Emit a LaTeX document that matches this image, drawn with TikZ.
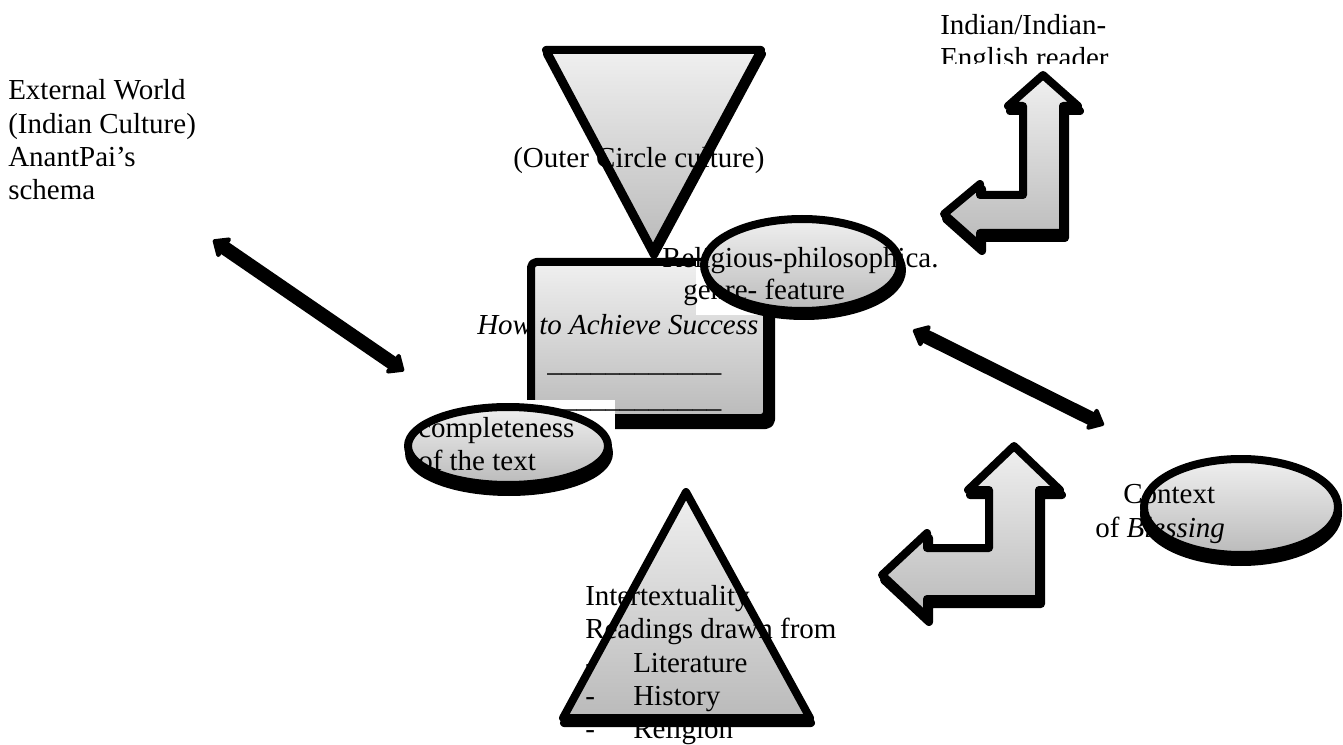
\documentclass[tikz,border=0pt]{standalone}
\usepackage{fontspec}
\setmainfont{Liberation Serif}
\usetikzlibrary{arrows.meta}
\newcommand{\diagfont}{\fontsize{21.75pt}{25pt}\selectfont}
\begin{document}
\begin{tikzpicture}[x=0.75pt,y=-0.75pt,
  txt/.style={font=\diagfont, inner sep=0pt, anchor=base west},
  itx/.style={txt, font=\diagfont\itshape},
  shp/.style={line width=6pt, line join=round},
  shadowshape/.style={shp, fill=black, draw=black},
  grad/.style={top color=black!6, bottom color=black!27},
  outline/.style={shp, draw=black},
  bitip/.style={line width=10.5pt, {Triangle[length=12pt,width=20pt,round,line width=7pt]}-{Triangle[length=12pt,width=20pt,round,line width=7pt]}},
  cover/.style={fill=white}]
\useasboundingbox (0,0) rectangle (1343,745);
\fill[white] (0,0) rectangle (1343,745);

% ---- left text
\node[txt] (ext1) at (8,100) {External World};
\node[txt] (ext2) at (8,134) {(Indian Culture)};
\node[txt] (ext3) at (8,167) {AnantPai’s};
\node[txt] (ext4) at (8,200) {schema};

% ---- double arrows
\coordinate (la1) at (213,240);
\coordinate (la2) at (404,371);
\draw[bitip] (la1) -- (la2);
\coordinate (ra1) at (913,330);
\coordinate (ra2) at (1104,425);
\draw[bitip] (ra1) -- (ra2);

% ---- down triangle
\def\pDT{(546,50) -- (761,50) -- (653,251) -- cycle}
\filldraw[shadowshape, shift={(1,4)}] \pDT;
\shade[grad] \pDT;
\node[txt] (outer) at (513,168) {(Outer Circle culture)};
\draw[outline] \pDT;

% ---- rectangle
\def\pRect{(531,262) rectangle (767,418)}
\filldraw[shadowshape, rounded corners=4pt, shift={(4,7)}] \pRect;
\shade[grad, rounded corners=4pt] \pRect;
\node[itx] (how) at (477,335) {How to Achieve Success};
\draw[outline, rounded corners=4pt] \pRect;
\fill[cover] (696,261) rectangle (781,315);
\fill[cover] (398,400) rectangle (615,502);
\node[txt] (line1) at (547,372) {\_\_\_\_\_\_\_\_\_\_\_\_};
\node[txt] (line2) at (547,407) {\_\_\_\_\_\_\_\_\_\_\_\_};

% ---- religious ellipse
\filldraw[shadowshape, shift={(2,5)}] (802,265) ellipse [x radius=98, y radius=46];
\shade[grad] (802,265) ellipse [x radius=98, y radius=46];
\node[txt] (rel1) at (662,268) {Religious-philosophica.};
\node[txt] (rel2) at (683,300) {genre- feature};
\draw[outline] (802,265) ellipse [x radius=98, y radius=46];

% ---- completeness ellipse
\filldraw[shadowshape, shift={(1,7)}] (508,446) ellipse [x radius=100, y radius=39];
\shade[grad] (508,446) ellipse [x radius=100, y radius=39];
\node[txt] (comp1) at (418,437) {completeness};
\node[txt] (comp2) at (418,470) {of the text};
\draw[outline] (508,446) ellipse [x radius=100, y radius=39];

% ---- up triangle
\def\pUT{(563,718) -- (810,718) -- (686,492) -- cycle}
\filldraw[shadowshape, shift={(1,5)}] \pUT;
\shade[grad] \pUT;
\node[txt] (int1) at (585,605) {Intertextuality};
\node[txt] (int2) at (585,638) {Readings drawn from};
\node[txt] (d1) at (585,672) {-};
\node[txt] (lit) at (633,672) {Literature};
\node[txt] (d2) at (585,705) {-};
\node[txt] (his) at (633,705) {History};
\node[txt] (d3) at (585,738) {-};
\node[txt] (relg) at (633,738) {Religion};
\draw[outline] \pUT;

% ---- context ellipse
\filldraw[shadowshape, shift={(0,7)}] (1241,507) ellipse [x radius=97, y radius=48];
\shade[grad] (1241,507) ellipse [x radius=97, y radius=48];
\node[txt] (ctx1) at (1123,503) {Context};
\node[txt] (ctx2) at (1095,537) {of \textit{Blessing}};
\draw[outline] (1241,507) ellipse [x radius=97, y radius=48];

% ---- upper L arrow
\def\pUA{(1043,75) -- (1078,106) -- (1063,106) -- (1063,233) -- (980,233) -- (980,246) -- (944,214) -- (980,184) -- (980,195) -- (1023,195) -- (1023,106) -- (1008,106) -- cycle}
\filldraw[shadowshape, shift={(2,5)}] \pUA;
\shade[grad] \pUA;
\draw[outline] \pUA;

% ---- lower L arrow
\def\pLA{(1014,446) -- (1060,490) -- (1039,490) -- (1039,599) -- (927,599) -- (927,617) -- (882,575) -- (927,533) -- (927,548) -- (989,548) -- (989,490) -- (968,490) -- cycle}
\filldraw[shadowshape, shift={(2,5)}] \pLA;
\shade[grad] \pLA;
\draw[outline] \pLA;

% ---- reader text (clipped)
\begin{scope}
\clip (930,0) rectangle (1130,64);
\node[txt] (rd1) at (940,35) {Indian/Indian-};
\node[txt] (rd2) at (940,68) {English reader};
\end{scope}
\end{tikzpicture}
\end{document}
